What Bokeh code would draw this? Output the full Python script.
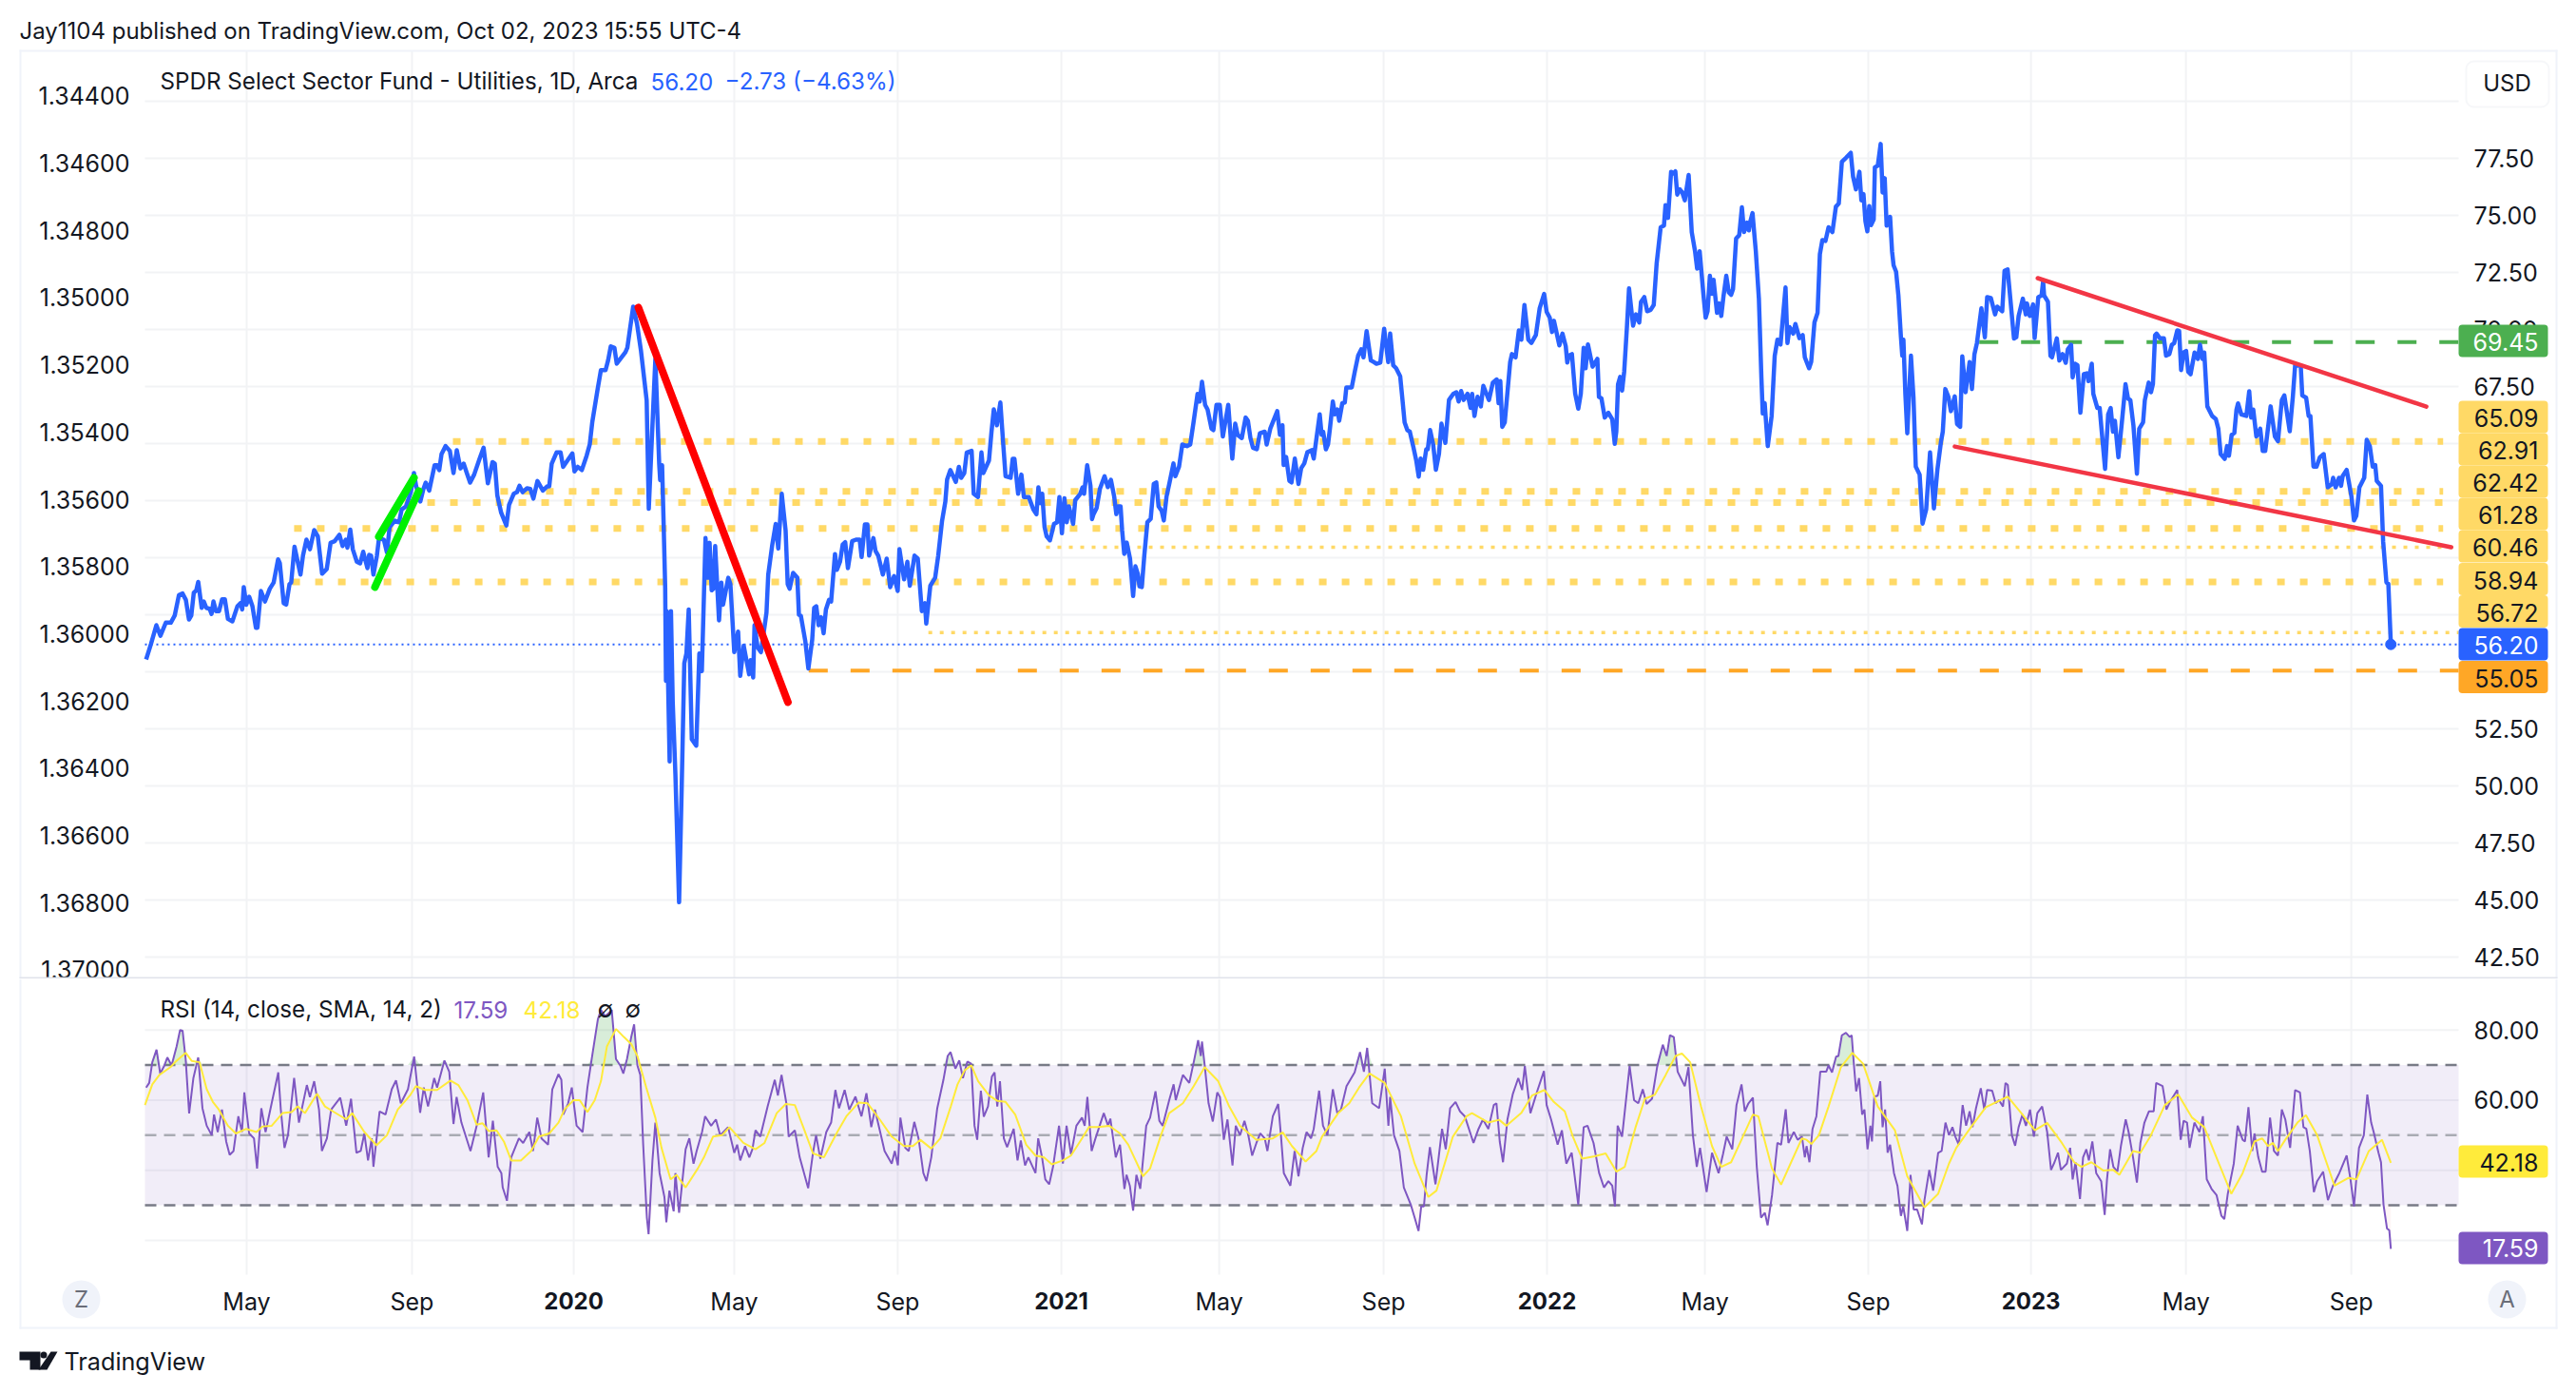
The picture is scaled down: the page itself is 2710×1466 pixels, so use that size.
from bokeh.plotting import figure
from bokeh.models import (Label, BoxAnnotation, PolyAnnotation, Range1d, LinearAxis, FixedTicker, NumeralTickFormatter)
from bokeh.layouts import column
from bokeh.embed import file_html
from bokeh.resources import INLINE
import numpy as np

# ---- price closes as (bar number since first bar, close)
price_2019 = [(0.6,55.54),(3.1,56.21),(5.9,57.04),(8.0,56.58),(10.8,57.15),(13.4,57.15),(15.4,57.46),(17.6,58.36),(19.5,58.43),(21.2,58.15),(22.8,57.29),(24,57.46),(25.3,58.46),(26.6,58.57),(27.6,58.94),(29.4,57.80),(30.5,58.08),(31.8,57.80),(33.5,57.76),(34.5,57.53),(35.5,58.08),(36.8,57.66),(38.4,57.66),(40,58.18),(41.4,58.18),(43,57.32),(45.3,57.21),(47.9,57.87),(49.6,58.01),(50.4,57.73),(51.2,58.71),(52.5,57.94),(54,58.29),(55.7,57.87),(57.5,56.93),(58.3,56.93),(60.1,58.54),(62.2,58.08),(64.7,58.64),(66.7,58.91),(69,59.93),(69.9,59.75),(71.9,58.01),(73.2,57.94),(74.9,58.84),(75.8,58.91),(77.5,60.48),(80.6,59.26),(81.9,60.09),(83.7,60.79),(85.5,60.37),(87.7,61.21),(89.6,60.93),(91.8,59.30),(94.2,59.50),(96.2,60.65),(98.3,60.72),(100.8,61.0),(102.4,60.51),(104.1,60.79),(104.9,60.44),(106.4,61.23),(107.7,60.37),(109.8,59.82),(111.5,59.75),(113.1,60.26),(115.3,59.54),(116.2,60.12),(117.2,60.09),(118.4,59.26),(120.2,60.09),(121.3,60.86),(123.8,60.79),(125.4,60.23),(126.8,61.34),(129.5,61.62),(131.7,61.55),(133,62.11),(135.3,62.25),(137.8,62.87),(139.4,63.71),(140.5,63.15),(142.7,62.46),(144.3,63.01),(145.5,63.29),(147.3,62.94),(150.1,64.05),(151.4,64.05),(152.5,63.84),(153.7,64.54),(155.8,64.89),(158,64.68),(159.9,63.71),(161.6,64.71),(163.5,63.91),(165.2,64.12),(166.8,63.71),(168.5,63.29),(170.6,63.64),(173.4,64.33),(175.5,64.82),(177.7,63.26),(180.1,64.19),(181.3,64.12),(182.6,62.73),(184.6,61.97),(187.3,61.41),(188.7,62.32),(191.1,62.80),(192.8,62.87),(194.1,63.15),(195.7,62.87),(198,63.04),(199.7,63.01),(201.3,62.59),(203.4,63.36),(206.2,62.94),(208.4,63.12),(209.5,63.12),(210.8,64.12),(213.3,64.61),(215.4,64.61),(216.7,63.98),(221.5,64.57),(222.6,63.78),(224.3,63.98),(226.4,63.84),(228.9,64.47),(230.5,64.96),(231.8,65.93),(234.6,67.39),(236.3,68.22),(238.7,68.22),(240,68.64),(241.4,69.26),(243.3,69.19),(244.5,68.5)]
price_2020 = [(249,69.0),(250,69.2),(253,71.0),(255,70.25),(257,69.1),(260,66.9),(261.1,62.14),(264.5,68.7),(266.5,64.1),(267,63.4),(268,64.05),(268.8,61.48),(269.6,58.7),(270,54.6),(270.4,57.66),(271.9,51.07),(272.6,57.66),(273.5,53.7),(274.9,50.5),(276.8,44.9),(278.1,49.7),(279.5,55.37),(280.6,55.8),(281.8,57.73),(283.4,52.04),(285.7,51.76),(287.3,55.8),(288.6,55.03),(290.5,60.86),(291.6,59.12),(292.6,60.65),(293.7,58.57),(294.6,58.64),(295.5,60.51),(297.5,57.25),(298.7,58.91),(299.6,57.94),(302.3,59.12),(303.4,58.84),(305.4,55.86),(307.4,56.76),(308.5,54.82),(310.3,56.14),(313.1,54.89),(313.9,55.51),(315.2,54.75),(315.9,57.04),(317.5,56.07),(319.2,55.86),(321.2,57.04),(322.1,57.6),(323,59.26),(325,60.51),(326.9,61.48),(328.2,60.4),(330,62.8),(332,61.2),(333.1,58.84),(334.1,58.64),(335.9,59.33),(338.1,59.12),(338.9,57.5),(339.9,57.46),(342.2,56.35),(343.8,55.14),(345.8,56.41),(346.8,57.8),(347.9,57.87),(349.1,57.04),(350.4,57.39),(351.7,56.69),(352.9,57.73),(354.5,58.15),(355.6,58.08),(357.6,60.16),(358.6,59.47),(360.2,59.82),(361.6,60.58),(362.9,60.68),(364.3,59.54),(366.5,60.72),(368.5,60.79),(370.4,60.79),(371.4,60.03),(373.1,61.46),(374.4,61.46),(375.3,60.09),(377.5,60.86),(378.6,60.3),(380,60.09),(382.4,59.26),(384.4,59.96),(386.2,58.71),(388.2,59.19),(390.1,58.54),(391,60.37),(393.4,59.05),(395.1,59.82),(396.4,58.77),(398.8,60.09),(400.5,59.96),(402.6,57.66),(404.2,58.01),(404.9,57.11),(407,58.77),(409.5,59.12),(411.1,60.09),(413.1,61.62),(414.8,62.46),(415.7,63.43),(417.4,63.84),(420.2,63.32),(421.8,63.98),(423,63.5),(424.6,63.71),(425.9,64.61),(428.4,64.68),(429.5,62.8),(431.7,62.66),(433.5,64.61),(434.5,63.71),(437.4,64.26),(438.7,65.51),(439.9,66.5),(441.5,65.8),(443.3,66.8),(444.8,64.96),(446,63.57),(448.6,63.5),(449.7,64.33),(450.6,64.33),(452.5,62.8),(454.2,63.64),(455.5,62.66),(458,62.66),(460.4,62.11),(462,61.9),(463,63.08),(464,62.39),(465,62.8),(466.2,61.34),(467.3,60.93),(469,60.76),(471.1,61.48),(472.7,61.55),(473.9,62.66),(475.2,61.07),(476.5,62.6),(477.7,61.55),(478.8,62.25),(481,61.48),(482.1,62.52),(484.7,62.8),(485.9,63.08),(486.7,62.8),(488.3,64.05),(490,63.15),(490.8,61.69)]
price_2021 = [(491.6,61.91),(493.2,62.18),(494.9,63.02),(497.3,63.57),(499,63.09),(500.6,63.41),(502.3,62.67),(503.4,61.91),(504.4,62.25),(505.6,62.25),(506.4,61.21),(507.5,60.17),(508.8,60.66),(510.5,59.96),(512.1,58.32),(513.3,59.62),(514.6,59.27),(515.4,58.74),(516.6,58.71),(517.9,60.1),(519.5,61.56),(521.2,61.7),(522.8,63.23),(524.1,63.3),(525.3,62.25),(526.9,62.05),(528,61.63),(529.4,62.67),(531,63.3),(533,64.13),(534,63.57),(535.9,63.99),(537.6,64.96),(540,64.89),(541.7,64.96),(543.3,65.87),(545.5,67.18),(546.6,66.84),(547.8,67.71),(549.4,66.7),(550.7,66.49),(552.7,65.66),(553.7,65.59),(555.3,66.7),(557,66.7),(558.6,65.31),(561.4,66.7),(563.5,64.34),(565,65.87),(566.3,65.38),(568.4,65.24),(570.4,66.14),(571.6,66.0),(572.9,65.24),(574.2,64.82),(576.2,64.75),(577.8,65.45),(580.3,65.52),(581.3,64.96),(583.2,65.66),(586.8,66.42),(588.2,65.38),(589.5,65.8),(590.1,64.06),(591.4,64.41),(593.1,63.37),(594.2,63.3),(595.9,64.34),(597.8,63.23),(599.2,63.92),(600.8,64.13),(602.4,64.62),(604.6,64.71),(605.7,64.34),(608.8,66.28),(609.8,65.38),(610.6,65.52),(612,64.75),(613.1,64.96),(614.1,65.66),(615.6,66.84),(616.7,66.28),(618,66.49),(618.9,66.0),(620.5,66.77),(621.8,66.8),(622.6,67.46),(625.4,67.46),(627,68.16),(628.7,68.85),(630.3,69.13),(631.5,68.78),(633.1,69.93),(635.3,68.64),(636.9,68.57),(638.2,68.5),(640.2,68.55),(642.2,70.03),(644.3,68.57),(645.3,69.82),(646.9,68.43),(648.4,68.3),(650.5,67.95),(651.7,66.91),(652.8,65.93),(654.2,65.59),(655.5,65.52),(657.4,64.82),(658.8,64.27),(660.1,63.55),(661.1,64.34),(662.4,63.85),(664,64.75),(664.8,64.75),(666,65.59),(667.6,64.96),(669,63.85),(670.6,64.55),(671.9,65.87),(673.9,65.03),(675.8,66.91),(678,67.18),(679.6,67.25),(680.8,66.84),(682.1,67.3),(683.4,66.91),(685.4,67.18),(687,66.56),(687.8,67.18),(689,66.21),(690.6,67.05),(692.3,66.63),(693.6,67.53),(694.9,67.25),(696.5,66.91),(698.5,67.67),(700.5,67.81),(701.5,66.77),(702.4,67.74),(703.4,65.73),(704.7,65.93),(707.5,68.57),(708.4,68.92),(710.3,68.78),(712,69.96),(713.3,69.55),(714.9,71.07),(716.9,69.55),(718.5,69.41),(720.8,69.75),(722.8,70.93),(725.1,71.56),(726.4,70.77),(728,70.52),(729.2,69.89),(730.2,70.38),(733,69.3),(734.6,69.82),(736.3,69.27),(737.1,68.55)]
price_2022 = [(737.9,68.85),(739.5,68.92),(741.2,67.18),(742.8,66.53),(744.1,67.18),(745.6,69.2),(746.6,68.3),(747.8,69.34),(750.2,68.37),(752.7,68.71),(753.5,67.05),(754.8,66.98),(756.5,66.14),(758.4,66.35),(760.4,66.07),(761.7,64.99),(762.5,65.52),(763.4,67.6),(764.5,67.92),(765.5,67.32),(766.6,68.16),(768,70.1),(769.1,71.8),(771.2,70.17),(772.7,70.66),(774.4,70.31),(775.3,71.21),(777,71.42),(778.5,70.8),(780.3,70.86),(781.9,71.07),(783.4,72.88),(785.5,74.48),(787.2,74.55),(788,75.45),(789.3,74.89),(790.9,76.91),(792.1,76.84),(793.1,76.93),(794.1,75.91),(795.4,76.14),(796.7,76.0),(798,75.66),(800,76.77),(801.6,74.27),(803.3,73.43),(804.4,72.67),(805.7,73.43),(807.7,71.49),(808.8,70.52),(809.8,70.8),(811,72.35),(812.1,71.56),(812.9,72.18),(814.7,70.73),(815.9,71.14),(816.9,70.59),(818,71.42),(819.5,72.35),(820.8,71.63),(822,71.52),(823,71.77),(824.6,73.99),(826.2,74.13),(827.6,75.35),(828.7,74.27),(830.2,74.68),(831.2,74.34),(831.8,74.68),(833.1,75.1),(834.8,73.43),(836.4,71.35),(837.7,67.88),(838.4,66.32),(839.4,66.77),(841,64.89),(843,66.21),(844.6,68.85),(846,69.55),(847.6,69.34),(850.2,71.84),(851.2,69.41),(852.3,70.1),(854.2,69.82),(855.3,70.24),(857.4,69.62),(859.1,69.75),(860.2,68.78),(862.4,68.3),(863.5,68.58),(865.2,70.31),(866.8,70.73),(868,73.3),(869.3,73.92),(870.9,73.88),(872.5,74.48),(874.5,74.27),(876.3,75.38),(877.8,75.52),(879.4,77.35),(881.6,77.53),(884,77.74),(885.2,76.7),(886.7,76.14),(888.5,76.91),(889.5,75.66),(890.6,75.93),(891.6,74.75),(892.6,74.3),(893.6,75.41),(894.5,74.57),(895.9,74.82),(896.5,77.11),(898,77.18),(899.5,78.13),(900.5,76.0),(901.6,76.63),(902.6,74.55),(904.4,74.93),(905.4,73.43),(906.2,72.81),(907.5,72.53),(908.7,71.49),(910,69.68),(910.7,68.85),(911.3,69.55),(912.3,67.18),(913.3,65.45),(915.2,68.85),(916.5,67.05),(917.7,63.99),(919.7,63.64),(921.2,61.49),(923.1,62.12),(925.1,64.61),(927.1,62.16),(928.9,63.85),(930.8,65.1),(931.7,65.52),(933,67.39),(934.6,67.05),(935.9,66.42),(937.9,67.07),(939.1,65.86),(940.7,65.73),(941.8,68.82),(943.5,67.25),(945.6,68.57),(946.8,67.39),(948.1,68.92),(949.4,69.41),(951.7,70.93),(953.5,69.66),(954.7,71.42),(956.6,71.38),(958.8,70.66),(959.9,71.0),(962.5,70.8),(963.7,72.57),(965.3,72.63),(967,71.07),(968.6,69.6),(969.8,69.66),(971,70.59),(973.2,71.35),(974.7,70.66),(975.3,71.14),(976.8,70.59),(978.5,71.1),(979.3,69.62),(981.2,71.42),(982.9,71.49)]
price_2023 = [(983.7,72.11),(984.2,71.49),(986.2,71.21),(987.5,68.85),(988.3,68.78),(990.8,69.61),(992.1,68.64),(993.8,68.92),(995.4,68.54),(996.5,69.13),(998.2,69.33),(999,67.9),(1000.3,68.5),(1001.5,68.43),(1003,66.35),(1004.8,68.04),(1006.4,68.08),(1007.2,67.74),(1008.9,68.5),(1009.7,67.18),(1011.8,66.56),(1013,66.56),(1013.8,65.79),(1015.8,63.89),(1017.4,66.28),(1018.7,66.56),(1019.9,65.52),(1020.9,66.0),(1022.7,64.4),(1024.5,65.93),(1026.4,67.6),(1027.7,66.97),(1028.9,66.9),(1030.5,65.79),(1032.3,63.68),(1033.5,65.65),(1035.5,65.93),(1036.4,66.9),(1038.4,67.67),(1039.6,67.25),(1040.6,67.6),(1041.7,69.75),(1042.5,69.82),(1044.2,69.61),(1046.3,69.61),(1047.4,68.85),(1049.1,68.92),(1050.4,69.33),(1051.6,69.4),(1053.2,69.96),(1054.2,69.93),(1055.2,68.22),(1056.5,68.99),(1057.8,69.06),(1058.9,68.15),(1060.1,68.04),(1062.2,68.99),(1063.9,68.71),(1065,69.33),(1066.3,68.71),(1067.2,68.99),(1068.8,66.63),(1071.3,66.21),(1073.2,66.07),(1074.5,65.65),(1075.7,64.54),(1077.8,64.33),(1079,64.89),(1080,64.47),(1081.4,65.38),(1082.8,65.47),(1083.9,66.49),(1084.7,66.76),(1086.4,66.28),(1089,66.21),(1090.5,67.29),(1091.5,66.14),(1092.6,66.49),(1094.2,65.31),(1096.2,65.65),(1097.5,64.68),(1098.8,64.68),(1101.6,66.63),(1103.8,65.31),(1105.4,65.1),(1107.4,66.9),(1108.7,67.11),(1111.5,65.54),(1113.1,67.04),(1114.3,68.43),(1117.2,68.4),(1118,67.11),(1120,67.01),(1121.3,66.21),(1122.2,66.21),(1123.8,63.99),(1125.4,63.99),(1127.1,64.4),(1129.1,64.54),(1131.2,63.08),(1133.3,63.22),(1134,63.5),(1135.3,63.08),(1137,63.5),(1138.1,63.15),(1138.9,63.57),(1141,63.85),(1143.5,62.67),(1144.8,61.63),(1146,61.83),(1147.6,63.08),(1150.1,63.5),(1151.4,65.17),(1153,64.89),(1154.5,63.99),(1155.8,64.06),(1156.6,63.36),(1158.8,63.15),(1159.9,60.72),(1161.6,58.92),(1162.6,58.85),(1163.9,56.2)]

# ---- RSI as (bar, value)
rsi_2019 = [(0.6,63.6),(2.2,64.9),(3.8,70.8),(6,74.4),(7.9,67.6),(10.1,69.9),(11.6,72.2),(13.8,69.9),(16.4,75.3),(18.2,80.0),(19.5,79.8),(21.1,71.7),(22.9,56.2),(25.1,66.3),(27.6,72.2),(29.8,57.7),(32,52.7),(34.6,50),(35.8,55.9),(37.7,50.9),(39.9,57.3),(42.1,48.2),(43.9,44.4),(45.9,45.5),(48.4,55.4),(50.3,50.9),(51.5,62.2),(54,50.5),(56.5,49.1),(58.1,40.5),(60.3,57.7),(62.5,50.9),(66,60),(69.1,67.9),(70.4,57.3),(72.3,46.4),(74.1,50),(77.3,66.3),(79.8,53.6),(83.9,64.3),(85.5,60.9),(87.7,65.4),(90.2,57.3),(91.7,45.5),(94.3,49.1),(96.5,57.3),(101.2,60.7),(104.3,52.7),(106.8,60.4),(109.6,45),(111.8,45.5),(113.7,50.5),(115.6,42.8),(117.5,49.1),(118.4,41),(121.6,56.8),(124.7,55.9),(127.9,63.1),(130.1,65.6),(132.6,59.1),(136.3,63.1),(139.5,72.4),(142.6,56.4),(144.5,63.6),(146.7,58.2),(149.9,66.3),(151.4,63.6),(155.2,71.3),(157.7,68.1),(159.9,53.2),(161.5,60.9),(164,53.6),(168.7,45.5),(171.9,52.7),(175.3,62.2),(178.1,43.7),(180.3,54.1),(182.8,41),(184.7,39.2),(185.4,35.1),(187.6,31.3),(189.8,43.7),(193.8,49.1),(196,47.8),(199.2,50.9),(201.1,45.5),(203.3,55),(205.5,49.1),(208.9,47.3),(211.1,63.1),(214.3,67.4),(215.8,65.8),(216.8,55.9),(219.3,59.1),(221.2,63.6)]
rsi_2020 = [(223.7,52.7),(226.8,50.9),(229.3,63.6),(231.5,71.7),(234.7,83),(236.3,85.7),(238.5,83.9),(240.3,84.8),(241.9,85.7),(244.1,71.7),(246.3,69.9),(247.9,67.6),(249.8,71.7),(252,78),(253.5,81.6),(255.2,69.9),(256.7,67.2),(258.2,47.3),(260.1,26.5),(261,21.8),(263,42.8),(264.5,53.6),(266.7,39.2),(269.2,32.4),(270.2,25.2),(271.8,34.2),(274,28.3),(274.9,39.2),(276.8,27.9),(280.2,46),(282.1,49.1),(284.3,41.9),(285.9,45.5),(288.7,50.9),(290.3,55.4),(293.4,52.7),(295.9,54.5),(298.1,50),(302.2,52.3),(305.4,45),(306.9,47.3),(308.5,42.8),(311,46.9),(313.2,43.7),(314.8,46),(316.4,51.4),(318.9,49.6),(322.7,58.2),(326.4,65.8),(328,61.3),(329.9,67.2),(332.4,59.1),(333.6,49.6),(336.8,51.4),(339.3,43.7),(343.7,34.9),(346.2,45),(347.8,50),(350,43.3),(353.1,50.9),(355.6,53.6),(357.8,62.9),(359.7,57.7),(362.6,62.9),(365,57.3),(368.2,61),(371.3,55.4),(373.9,62),(376.4,52.3),(378.3,57.3),(381.4,50),(383.3,45.5),(387,41.9),(388.6,45.5),(390.2,41.4),(391.5,55),(394,46.4),(395.8,45.5),(398.7,53.8),(400.9,49.1),(403.4,39.2),(405,36.9),(407.5,43.7),(410.6,57.7),(413.8,65.8),(416,72.6),(417.5,73.7),(420,69),(422,71.3),(423.9,66.3),(426.2,71),(428.2,70.4),(429.9,52.7),(431.3,48.7),(433.2,62.7),(434.7,55.3),(436.9,58.2),(438.9,66.7),(440.3,67.9),(441.7,58.2),(443.1,65.4),(445.1,49.1),(446.8,46.6),(450.2,51.8),(452.2,42.8),(453.9,48.5),(456.1,41.4),(457.8,43.7),(461.5,39.2),(462.9,49.1),(464.9,43.7),(466.6,37.4),(468.6,36),(470.6,41),(473.7,52.7)]
rsi_2021 = [(475.7,41.9),(477.6,52.7),(479.9,44.6),(482.7,52.7),(485.6,55),(487,52.7),(488.4,60.9),(490.6,45.5),(492.6,49.1),(496.9,56.3),(499.1,52.7),(500.3,54.7),(503.1,43.7),(505.3,47.3),(507.6,34.7),(508.7,38.7),(510.4,35.6),(512.1,28.5),(513.8,38.7),(515.8,34.7),(518.9,52.7),(520.9,55),(523.7,62.5),(525.7,54.1),(527.4,52.7),(530.8,60),(533.1,64.5),(534.2,60),(537.9,67.2),(541.2,64.9),(543.5,70.8),(545.8,77.1),(547.2,72.6),(547.8,76.7),(549.2,69.9),(551.2,59.1),(553.4,53.9),(555.7,62.2),(557.1,60.9),(559.1,48.7),(561,54.5),(563.6,41.4),(565.3,52.7),(567.5,50),(569.8,54.1),(571.8,50),(573.8,44.2),(576,47.8),(578,50.5),(580.3,49.1),(581.7,45.5),(584.5,55.4),(587.3,58.9),(588.7,50),(590.2,39.2),(593.6,35.6),(595.8,45.5),(597.8,38.3),(600,46.4),(602,50.9),(604.3,49.1),(605.7,51.8),(608.5,62.7),(610.5,52.7),(612.8,50),(615.6,63.1),(617.9,56.3),(619.8,57.3),(622.7,64),(626.9,67.9),(629.7,73.7),(631.7,68.1),(633.4,74.9),(636,59.1),(639.6,57.7),(642.5,69),(644.4,52.7),(645.3,60.9),(647.3,50),(650.1,45.5),(652.4,35.1),(656,30.2),(658,26.5),(660,22.7),(661.4,29.7),(662.8,29.7),(664.2,38.7),(665.9,46.6),(668.8,36),(672.2,51.8),(674.1,46),(676.4,57.7),(679.2,59.5),(681.5,56.8),(684,55.4),(688.5,47.8),(691.1,51.8),(693.4,54.5),(696.2,51.8),(699,58.6),(700.4,59.1),(702.1,48.2),(703.8,42.3),(706.1,54.5),(708.9,61.8),(711.7,66.3),(713.7,62.9),(715.1,69.7),(718,56.3),(721.6,62.7),(725,68.3)]
rsi_2022 = [(726.4,58.6),(728.7,54.5),(732.1,47.3),(734.3,51.4),(736.6,41.9),(739.4,45),(742.8,30.2),(745.6,52.3),(747.6,52.7),(750.7,47.8),(753.6,39.2),(756.1,35.1),(758.4,36.9),(760.4,35.6),(761.8,29.7),(763.2,52.7),(765.5,49.6),(767.7,60.9),(769.4,69.7),(771.7,60),(773.9,59.1),(776.2,63.1),(778.2,58.9),(781,60.4),(783.8,69.9),(786.6,75.8),(788.6,72.6),(790.3,78.5),(792.3,78),(794.3,68.1),(798,64),(799.9,69.4),(802.2,50),(804.2,41),(805.9,46.4),(809.3,33.8),(812.1,45),(815.5,39.2),(817.8,44.6),(819.7,49.6),(822.6,46),(824.8,58.6),(827.4,64.5),(829.1,56.8),(831,59.1),(833.3,60.7),(835.3,41),(837.5,26.5),(839.5,27.9),(840.9,24.3),(843.2,32.9),(846,47.8),(847.9,47.3),(850.3,57.4),(851.7,47.8),(854.5,50.9),(856.5,48.7),(858.7,49.6),(860.2,43.7),(861.1,46.9),(862.6,42.3),(864.2,51.8),(866.2,55.4),(868.2,68.1),(871.3,68.1),(872.5,69.9),(874.3,67.9),(876.4,72.4),(877.6,72.6),(879.4,78.5),(881.5,79.2),(883.5,78),(884.5,78.5),(885.8,69),(886.8,62.5),(888.3,66.3),(889.9,55.9),(891.1,57.3),(892.7,46),(894.2,52.7),(895,48.2),(896.2,61),(898,61.3),(899.3,65.4),(900.5,52.3),(901.8,57.3),(903.1,45),(904.4,47.3),(906.4,39.2),(908.2,35.6),(910,27),(911.2,29.7),(913.3,22.7),(915,38.7),(916.6,28.8),(918.4,28.8),(920.9,24.6),(922.2,31.5),(924.7,40.1),(926.7,34.2),(929.3,45),(931.1,45.5),(933.1,53.6),(934.9,50),(936.7,52.3),(938.2,49.6),(940,47.3),(942,58.6),(943.8,52.7),(945.6,56.8),(947.1,52.3),(948.9,57.7),(951.4,63.4),(953.2,57.3),(954.7,62.9),(957.3,62.7),(959.1,59.1),(960.8,60),(962.9,58.2),(964.2,64.9),(965.4,64.3),(967.5,50),(969.2,47),(971,52.3),(973,55.9),(974.8,52.7)]
rsi_2023 = [(976.9,57.3),(978.9,49.6),(980.7,56.3),(983.2,58.2),(985.8,50.9),(987.8,40.1),(989.6,42.3),(991.4,45),(992.9,40.1),(996,41.9),(997.7,46.4),(999,37.4),(1000.5,42.3),(1002.8,31.8),(1004.4,43.7),(1006.1,46),(1007.4,42.8),(1009.2,48.2),(1011.2,39.2),(1013.8,36.9),(1015.6,27.3),(1016.8,37.4),(1018.4,46),(1020.1,41),(1022.2,39.6),(1024,46.9),(1026.5,54.5),(1028,50.9),(1030.3,43.7),(1032.3,36.5),(1034.1,47.8),(1036.2,53.6),(1038.5,56.8),(1041,56.8),(1042.3,64.9),(1045.6,64),(1047.6,57.3),(1049.4,59.5),(1053.2,62.9),(1055,48.7),(1056.5,54.1),(1058.3,53.6),(1059.6,46.4),(1062.1,53.6),(1064.7,50.9),(1066.5,55.4),(1068.5,37.4),(1071,34.7),(1073.6,32.9),(1076.1,27),(1077.6,26.1),(1079.4,33.3),(1082.5,41.9),(1084.5,52.7),(1087.1,48.7),(1088.3,48.2),(1090.1,58),(1092.1,45.5),(1093.2,50.5),(1095.2,43.7),(1097.2,39.6),(1099,39.6),(1101.3,55),(1103.3,45.5),(1105.4,44.2),(1107.4,57.3),(1109.2,54.5),(1111.7,46.4),(1114.3,62.9),(1116.8,62.2),(1118.6,52.3),(1120.1,51.8),(1121.9,45.5),(1124,33.8),(1125.7,36.9),(1128.8,39.6),(1131.3,31.5),(1133.9,35.6),(1137.2,39.2),(1141,44.2),(1143,37.4),(1144.8,29.7),(1147.4,46.4),(1149.9,50),(1151.7,61.6),(1153.7,53.6),(1155,50.9),(1157.5,45),(1158.8,42.3),(1160.1,30.2),(1161.9,23.4),(1163.1,22.9),(1163.9,17.59)]

# ---- RSI moving average as (bar, value)
sma_2019 = [(0,58.6),(3.8,64.5),(7.5,67.2),(13.2,69.4),(16.3,71.2),(21.1,73.5),(24.2,71.2),(28.3,70.8),(32,63.1),(35.2,59.5),(38.3,57.3),(43,52.7),(47.1,50.5),(52.5,51.8),(57.8,50.9),(60.9,52.5),(65.7,52.7),(71.3,56.3),(76,56.6),(79.2,58.2),(82.9,56.3),(89.2,61.8),(93.3,58.2),(98,56.6),(104.3,54.5),(107.4,56.3),(113.7,50.9),(120,47.1),(125.4,50),(131,57.3),(137.3,61.3),(140.4,64),(145.1,62.9),(151.4,62.9),(158.3,65.6),(162.4,64.3),(167.1,60),(171.9,53),(175,53.4),(178.1,51.2),(182.2,51.4),(186,48.2),(189.8,42.8),(194.8,42.8),(200.1,45.5),(204.2,49.6),(209.5,50.5),(214.3,53.6),(217.4,57.3)]
sma_2020 = [(222.1,60),(225.3,60),(229.3,56.6),(233.1,60),(236.3,65.4),(239.4,75.3),(244.1,80.3),(248.2,78),(252,76),(255.2,72.6),(259.8,63.6),(264.5,55),(267.7,46.4),(272.4,37.4),(275.5,38.7),(280.2,35.1),(286.5,40.5),(289.7,43.7),(294.4,49.6),(299.1,50),(302.9,52.3),(310.1,47.8),(316.4,46),(321.1,47.8),(327.4,56.3),(332.1,58.9),(336.8,58.6),(341.5,51.8),(346.2,44.8),(351.9,43.7),(358.8,50.9),(363.5,55.4),(369.8,59.3),(374.5,59.1),(380.8,54.5),(387,49.6),(393.3,46.9),(398,46.9),(401.8,48.7),(407.5,46.2),(412.2,49.1),(417.6,58.2),(421.1,64.5),(424.8,68.5),(428.2,69.9),(431.8,65.4),(437.5,61.3),(441.7,59.8),(446,59.5),(451,55.9),(456.7,47.3),(461.5,44.2),(465.8,43.7),(470,41.7)]
sma_2021 = [(475.7,42.8),(479.9,44.2),(485.6,49.1),(489.2,52.3),(494,52.3),(499.7,52.7),(505.3,50.5),(509.6,47.3),(517.2,38.3),(520.9,40.5),(526.5,50),(530.8,56.3),(537.9,59.1),(543.5,64),(549.2,69.4),(556.2,65.4),(561.9,58.2),(567.5,52.7),(576,48.7),(584.5,49.1),(589.6,50.8),(594.4,46.9),(601.5,42.5),(607.1,45.5),(610,49.6),(618.4,56.3),(624.1,59.1),(629.2,63.6),(634.6,67.6),(642.5,64.9),(650.9,55.4),(658,41.9),(665.1,32.4),(669.3,34.2),(677.8,49.6),(684.9,55.4),(687.7,56.3),(696.2,53.6),(701.8,54.4),(705.5,52.7),(713.2,56.3),(718.8,61.3),(725.3,62.9)]
sma_2022 = [(730.1,59.5),(735.8,56.8),(740,49.6),(744.8,43.3),(751.3,44),(757,44.8),(762.6,39.6),(766.9,41),(772.5,52.3),(777.3,60.4),(782.4,61.5),(788.1,67.2),(793.2,72.6),(796.5,73.3),(800.8,70.8),(806.4,58.2),(812.1,46.9),(816.9,41),(822,42.3),(827.7,49.1),(833.3,55.9),(836.1,55.4),(843.2,40.5),(847.9,35.9),(853.1,42.3),(858.7,49.1),(861.1,48.7),(863.6,47.5),(867.5,50),(872.5,58.2),(878.9,69.4),(884.8,73.5),(890.4,70.4),(898,58.2),(906.9,51.4),(913.3,38.3),(922.2,29.4),(929.3,33.3),(934.9,41.9),(938.7,46.4),(946.3,52.3),(954,58),(965.4,61),(973,55.9)]
sma_2023 = [(979.4,51.4),(985.8,53.5),(993.4,47.8),(999.8,42.3),(1003.6,41),(1008.7,42.3),(1015,39.9),(1020.1,40.1),(1023.2,38.7),(1030.3,45.5),(1034.1,45),(1039.2,49.6),(1046.8,58.6),(1053.7,61.6),(1060.9,55),(1067.2,52.3),(1074.8,41.9),(1081.2,33.3),(1087.1,39.2),(1093.2,48.2),(1097.2,49.1),(1100.3,46.9),(1102.8,47.8),(1105.4,45.5),(1109.2,48.7),(1115.5,53.6),(1119.9,55.7),(1125.7,50),(1134.7,35.6),(1141.8,37.8),(1146.1,37.4),(1152.5,45.5),(1159.3,48.7),(1163.9,42.1)]

# ---- axes
month_ticks = [52.7, 138.4, 305.4, 390.1, 556.7, 641.9, 808.4, 893.1, 1057.7, 1143.4]
month_labels = ["May", "Sep", "May", "Sep", "May", "Sep", "May", "Sep", "May", "Sep"]
year_ticks = [222.2, 474.9, 726.6, 977.4]
year_labels = ["2020", "2021", "2022", "2023"]
price_grid = [80, 77.5, 75, 72.5, 70, 67.5, 65, 62.5, 60, 57.5, 55, 52.5, 50, 47.5, 45, 42.5]
price_ticks = [77.5, 75, 72.5, 70, 67.5, 52.5, 50, 47.5, 45, 42.5]
ratio_ticks = [1.344, 1.346, 1.348, 1.350, 1.352, 1.354, 1.356, 1.358, 1.360, 1.362, 1.364, 1.366, 1.368, 1.370]
rsi_grid = [80, 60, 40, 20]
rsi_ticks = [80, 60]

# ---- levels drawn on the chart: value, first bar
yellow_levels = [65.09, 62.91, 62.42, 61.28, 58.94]
yellow_starts = [159.6, 184.2, 134.5, 77.3, 76.4]
thin_levels = [60.46, 56.72]
thin_starts = [467, 406]
support = 55.05
support_start = 344
resistance = 69.45
resistance_start = 950.6
last_close = 56.20
last_bar = 1163.9
# drawings: (bar0, value0, bar1, value1)
red_thick = (255.7, 70.96, 333.2, 53.67)
green_a = (121.2, 60.92, 139.4, 63.5)
green_b = (119.2, 58.71, 141.9, 62.92)
trend_up = (980.9, 72.25, 1182.3, 66.62)
trend_lo = (937.9, 64.87, 1195.2, 60.46)

tag_texts = ["69.45", "65.09", "62.91", "62.42", "61.28", "60.46", "58.94", "56.72", "56.20", "55.05"]
tag_fill = ["#4CAF50"] + ["#FFD966"] * 7 + ["#2962FF", "#FFA726"]
tag_ink = ["#FFFFFF"] + ["#131722"] * 7 + ["#FFFFFF", "#131722"]
tag_center = [358, 438, 472, 506, 540, 574, 608.5, 642.5, 677, 711.5]

FONT = "Inter"
INK = "#131722"
BLUE = "#2962FF"
PURPLE = "#7E57C2"
YELLOW = "#FFEB3B"
GRID = "#F2F3F5"
EDGE = "#F0F3FA"

# One chart bar takes 2.03 px; the panes' frames fill the figures so that tags and captions can sit on them.
BAR_END = 1199.0
OX = 8          # page x of the figures' left edge
W = 2694
x_start = (OX - 152) / 2.03
x_end = (OX + W - 152) / 2.03

def xy(*parts):
    pts = [p for part in parts for p in part]
    return [p[0] for p in pts], [p[1] for p in pts]

def text(fig, s, x, y, size=24, color=INK, align="left", style="normal"):
    fig.add_layout(Label(x=x - OX, y=y, x_units="canvas", y_units="canvas", text=s,
                         text_font=FONT, text_font_size=f"{size}px", text_color=color,
                         text_align=align, text_baseline="middle", text_font_style=style))

def rect(fig, l, r, t, b, fill, radius=0, line=None):
    fig.add_layout(BoxAnnotation(left=l - OX, right=r - OX, top=t, bottom=b, left_units="canvas", right_units="canvas",
                                 top_units="canvas", bottom_units="canvas", fill_color=fill, fill_alpha=1,
                                 line_color=line, line_width=2, border_radius=radius, level="annotation"))

def style_axis(a, standoff):
    a.axis_line_color = None
    a.major_tick_line_color = None
    a.minor_tick_line_color = None
    a.major_tick_out = 0
    a.major_tick_in = 0
    a.major_label_standoff = standoff
    a.major_label_text_font = FONT
    a.major_label_text_font_size = "25px"
    a.major_label_text_color = INK

# ================= main pane =================
T1 = 8
H1 = 1021
price_top = 80 - (T1 - 106) / 24
main = figure(width=W, height=H1, output_backend="svg", toolbar_location=None,
              x_range=Range1d(x_start, x_end), y_range=Range1d(41.54, price_top),
              x_axis_location=None, y_axis_location="right",
              min_border_left=0, min_border_right=0, min_border_top=0, min_border_bottom=0,
              background_fill_color="white", border_fill_color="white", outline_line_color=None)
main.xgrid.visible = False
main.ygrid.visible = False
main.segment(0, price_grid, BAR_END, price_grid, line_color=GRID, line_width=2, level="underlay")
for t in month_ticks + year_ticks:
    main.segment(t, 41.54, t, 82.21, line_color=GRID, line_width=2, level="underlay")

ax = main.yaxis[0]
ax.ticker = FixedTicker(ticks=price_ticks)
ax.formatter = NumeralTickFormatter(format="0.00")
style_axis(ax, -100)

main.extra_y_ranges = {"ratio": Range1d(1.37027, 1.34139)}
left = LinearAxis(y_range_name="ratio", ticker=FixedTicker(ticks=ratio_ticks),
                  formatter=NumeralTickFormatter(format="0.00000"))
style_axis(left, -128)
main.add_layout(left, "left")

for v, s in zip(yellow_levels, yellow_starts):
    main.line([s, 1191], [v, v], line_color="#FFD966", line_width=7, line_dash="8 16")
for v, s in zip(thin_levels, thin_starts):
    main.line([s, BAR_END], [v, v], line_color="#FFD966", line_width=3.5, line_dash="4 8")
main.line([support_start, BAR_END], [support, support], line_color="#FFA726", line_width=4, line_dash="20 24")
main.line([resistance_start, BAR_END], [resistance, resistance], line_color="#4CAF50", line_width=4, line_dash="20 24")
main.line([0, BAR_END], [last_close, last_close], line_color=BLUE, line_width=2, line_dash="2 4")

px, py = xy(price_2019, price_2020, price_2021, price_2022, price_2023)
main.line(px, py, line_color=BLUE, line_width=4.5, line_join="round")
main.scatter([last_bar], [last_close], size=11, marker="circle", color=BLUE)

for seg, col, w in [(red_thick, "#FF0000", 8), (green_a, "#00F000", 8), (green_b, "#00F000", 8),
                    (trend_up, "#F23645", 4.5), (trend_lo, "#F23645", 4.5)]:
    main.line([seg[0], seg[2]], [seg[1], seg[3]], line_color=col, line_width=w, line_cap="round")

rect(main, 20, 2690, 53 - T1 - 1, 53 - T1 + 1, EDGE)
rect(main, 20, 22, 53 - T1 - 1, H1, EDGE)
rect(main, 2688, 2690, 53 - T1 - 1, H1, EDGE)
rect(main, 20, 2690, H1 - 2, H1, "#E0E3EB")

for s, fill, ink, c in zip(tag_texts, tag_fill, tag_ink, tag_center):
    rect(main, 2586, 2680, c - T1 - 17, c - T1 + 17, fill, radius=4)
    text(main, s, 2670, c - T1 + 1, 25, ink, "right")

text(main, "Jay1104 published on TradingView.com, Oct 02, 2023 15:55 UTC-4", 20, 32 - T1, 24)
text(main, "SPDR Select Sector Fund - Utilities, 1D, Arca", 168, 85 - T1, 24.2)
text(main, "56.20", 684, 85 - T1, 24.2, BLUE)
text(main, "\u22122.73 (\u22124.63%)", 762, 85 - T1, 24.2, BLUE)
rect(main, 2594, 2681, 64 - T1, 112 - T1, "white", radius=8, line="#E0E3EB")
text(main, "USD", 2637, 87 - T1, 24, INK, "center")

# ================= RSI pane =================
T2 = 1029
H2 = 421
rsi_bottom = 20 - (T2 + H2 - 1304) / 3.688
rsi = figure(width=W, height=H2, output_backend="svg", toolbar_location=None,
             x_range=main.x_range, y_range=Range1d(rsi_bottom, 94.56),
             y_axis_location="right",
             min_border_left=0, min_border_right=0, min_border_top=0, min_border_bottom=0,
             background_fill_color="white", border_fill_color="white", outline_line_color=None)
rsi.xgrid.visible = False
rsi.ygrid.visible = False
rsi.segment(0, rsi_grid, BAR_END, rsi_grid, line_color=GRID, line_width=2, level="underlay")
for t in month_ticks + year_ticks:
    rsi.segment(t, 10.24, t, 94.56, line_color=GRID, line_width=2, level="underlay")

ay = rsi.yaxis[0]
ay.ticker = FixedTicker(ticks=rsi_ticks)
ay.formatter = NumeralTickFormatter(format="0.00")
style_axis(ay, -100)

ab = rsi.xaxis[0]
ab.ticker = FixedTicker(ticks=month_ticks)
ab.major_label_overrides = {t: s for t, s in zip(month_ticks, month_labels)}
style_axis(ab, -97)

rsi.add_layout(BoxAnnotation(left=0, right=BAR_END, top=70, bottom=30, fill_color=PURPLE, fill_alpha=0.11, line_color=None, level="underlay"))
for lvl, col in [(70, "#787B86"), (50, "#A9ABB3"), (30, "#787B86")]:
    rsi.line([0, BAR_END], [lvl, lvl], line_color=col, line_width=2.5, line_dash="12 8")

rx, ry = xy(rsi_2019, rsi_2020, rsi_2021, rsi_2022, rsi_2023)
ry_a = np.array(ry)
rsi.varea(rx, np.full_like(ry_a, 70.0), np.maximum(ry_a, 70.0), fill_color="#4CAF50", fill_alpha=0.22)
rsi.varea(rx, np.minimum(ry_a, 30.0), np.full_like(ry_a, 30.0), fill_color="#F23645", fill_alpha=0.05)
rsi.line(rx, ry, line_color=PURPLE, line_width=2)
sx, sy = xy(sma_2019, sma_2020, sma_2021, sma_2022, sma_2023)
rsi.line(sx, sy, line_color=YELLOW, line_width=2)

rect(rsi, 20, 2690, 1396 - T2 - 1, 1396 - T2 + 1, EDGE)
rect(rsi, 20, 22, 0, 1396 - T2 + 1, EDGE)
rect(rsi, 2688, 2690, 0, 1396 - T2 + 1, EDGE)

rect(rsi, 2586, 2680, 1204 - T2, 1238 - T2, YELLOW, radius=4)
text(rsi, "42.18", 2670, 1222 - T2, 25, INK, "right")
rect(rsi, 2586, 2680, 1295 - T2, 1329 - T2, PURPLE, radius=4)
text(rsi, "17.59", 2670, 1312 - T2, 25, "#FFFFFF", "right")

text(rsi, "RSI (14, close, SMA, 14, 2)", 168, 1061 - T2, 24.2)
text(rsi, "17.59", 477, 1061 - T2, 24.2, PURPLE)
text(rsi, "42.18", 550, 1061 - T2, 24.2, YELLOW)
text(rsi, "\u2205", 628, 1061 - T2, 24.2)
text(rsi, "\u2205", 657, 1061 - T2, 24.2)

for t, s in zip(year_ticks, year_labels):
    rsi.add_layout(Label(x=t, y=1367 - T2, x_units="data", y_units="canvas", text=s, text_font=FONT,
                         text_font_size="24px", text_font_style="bold", text_color=INK,
                         text_align="center", text_baseline="middle"))

rect(rsi, 65, 105, 1346 - T2, 1386 - T2, "#F0F3FA", radius=20)
text(rsi, "Z", 85, 1366 - T2, 24, "#6A6D78", "center")
rect(rsi, 2617, 2657, 1346 - T2, 1386 - T2, "#F0F3FA", radius=20)
text(rsi, "A", 2637, 1366 - T2, 24, "#6A6D78", "center")

# TradingView mark and name
for xs, ys in [([20, 42, 42, 31, 31, 20], [392, 392, 411, 411, 401, 401]),
               ([53, 60, 49, 40], [392, 392, 411, 411])]:
    rsi.add_layout(PolyAnnotation(xs=[v - OX for v in xs], ys=ys, xs_units="canvas", ys_units="canvas",
                                  fill_color=INK, fill_alpha=1, line_color=None))
rect(rsi, 42, 49, 392, 399, INK, radius=4)
text(rsi, "TradingView", 67, 402, 25.2)

page = column(main, rsi, spacing=0, margin=(8, 0, 0, 8))
open("out.html", "w").write(file_html(page, INLINE))
